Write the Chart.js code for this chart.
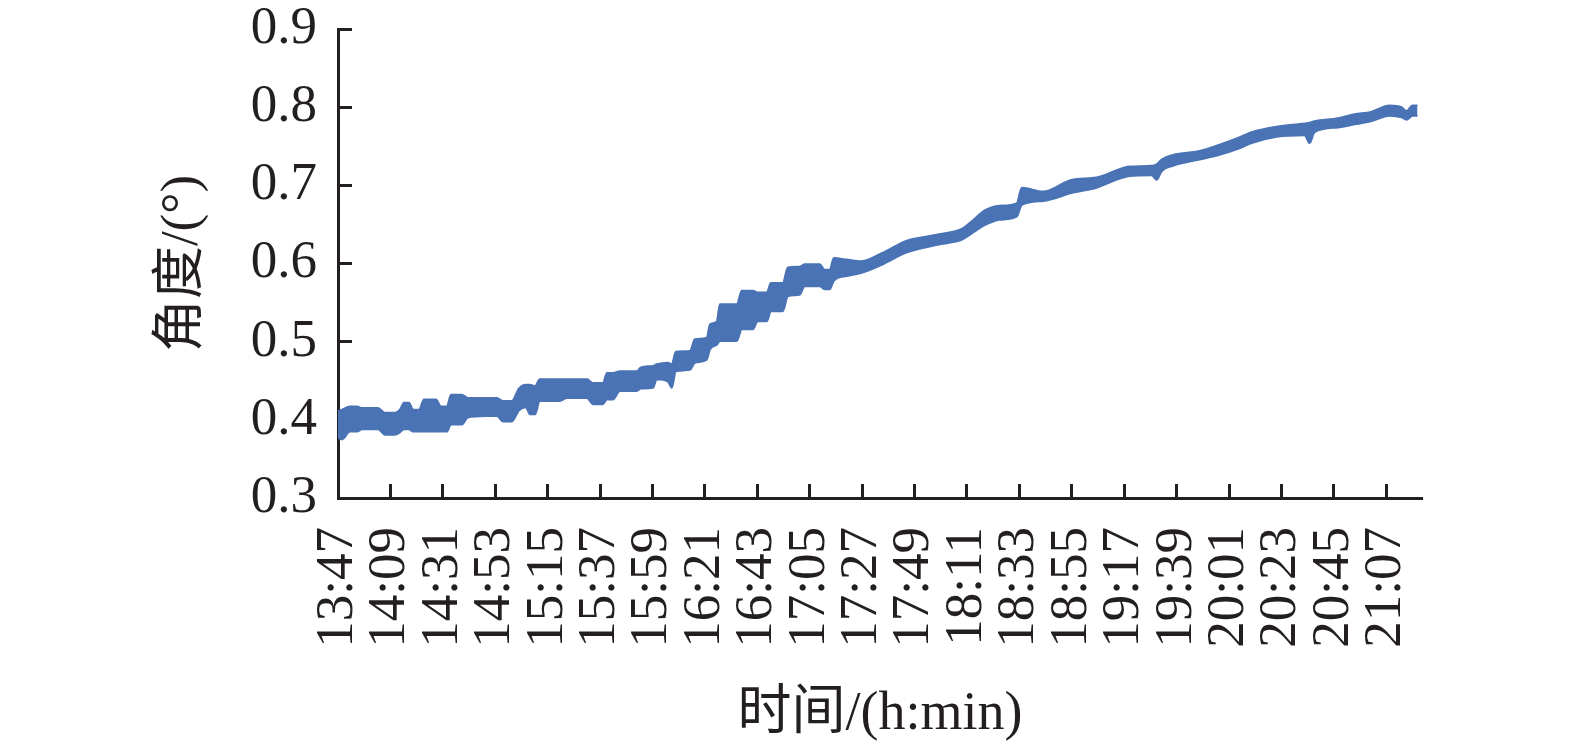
<!DOCTYPE html>
<html>
<head>
<meta charset="utf-8">
<script src="https://cdn.jsdelivr.net/npm/chart.js@4.4.1/dist/chart.umd.min.js"></script>
<style>
  body { margin: 0; background: #fff; }
</style>
</head>
<body>
<canvas id="angleChart" width="1575" height="751"></canvas>
<script>
// time axis labels (h:min), one every 22 minutes
const startTime = "13:47";
const tickLabels = ["13:47", "14:09", "14:31", "14:53", "15:15", "15:37", "15:59", "16:21", "16:43", "17:05",
  "17:27", "17:49", "18:11", "18:33", "18:55", "19:17", "19:39", "20:01", "20:23", "20:45", "21:07"];
const yTicks = [0.3, 0.4, 0.5, 0.6, 0.7, 0.8, 0.9];

// minutes after 13:47, with the highest and lowest angle of the noisy trace there
const sampleMinutes = [
  0, 1.7, 5.0, 8.0, 10.1, 16.8, 19.7, 23.9, 26.0, 27.7, 29.8, 31.5, 34.0, 36.1, 41.1, 43.2, 45.7, 47.4, 52.0, 54.5,
  61.7, 66.7, 69.2, 73.0, 75.9, 78.9, 80.6, 82.7, 84.7, 93.1, 96.1, 104.5, 107.0, 111.2, 112.9, 115.4, 118.3, 125.4, 127.1, 132.2,
  133.8, 138.5, 140.1, 141.8, 147.7, 149.8, 154.8, 156.1, 159.0, 160.3, 167.4, 169.5, 174.1, 176.2, 180.0, 181.7, 186.7, 188.8, 193.8, 195.9,
  202.2, 204.3, 206.4, 208.1, 213.6, 219.8, 228.7, 238.5, 251.7, 262.2, 266.8, 271.4, 277.7, 284.9, 287.0, 296.0, 307.8, 318.4, 332.3, 341.5,
  343.6, 345.7, 350.5, 361.6, 370.0, 377.2, 383.5, 394.0, 405.7, 407.8, 409.9, 419.7, 426.7, 433.6, 441.4, 446.4, 448.5, 451.0, 453.1
];
const angleMax = [
  0.411, 0.413, 0.417, 0.417, 0.415, 0.415, 0.409, 0.409, 0.413, 0.422, 0.422, 0.413, 0.413, 0.426, 0.426, 0.417, 0.417, 0.432, 0.432, 0.428,
  0.428, 0.428, 0.424, 0.424, 0.440, 0.445, 0.445, 0.443, 0.452, 0.452, 0.452, 0.452, 0.447, 0.447, 0.460, 0.460, 0.462, 0.462, 0.467, 0.469,
  0.471, 0.473, 0.471, 0.487, 0.488, 0.503, 0.505, 0.522, 0.526, 0.548, 0.548, 0.565, 0.565, 0.563, 0.563, 0.575, 0.575, 0.595, 0.596, 0.599,
  0.599, 0.592, 0.592, 0.607, 0.605, 0.603, 0.614, 0.629, 0.637, 0.645, 0.656, 0.668, 0.674, 0.677, 0.697, 0.692, 0.707, 0.710, 0.724, 0.725,
  0.727, 0.733, 0.739, 0.744, 0.752, 0.760, 0.768, 0.775, 0.779, 0.780, 0.782, 0.786, 0.791, 0.794, 0.802, 0.800, 0.795, 0.802, 0.802
];
const angleMin = [
  0.377, 0.375, 0.385, 0.385, 0.388, 0.388, 0.381, 0.381, 0.384, 0.388, 0.388, 0.385, 0.385, 0.385, 0.385, 0.385, 0.385, 0.394, 0.394, 0.403,
  0.405, 0.405, 0.398, 0.398, 0.412, 0.416, 0.407, 0.407, 0.424, 0.424, 0.428, 0.428, 0.420, 0.420, 0.426, 0.426, 0.437, 0.437, 0.440, 0.441,
  0.452, 0.449, 0.441, 0.462, 0.464, 0.473, 0.477, 0.490, 0.496, 0.501, 0.501, 0.516, 0.516, 0.526, 0.526, 0.539, 0.539, 0.558, 0.560, 0.571,
  0.571, 0.567, 0.567, 0.578, 0.584, 0.588, 0.599, 0.614, 0.624, 0.631, 0.640, 0.649, 0.656, 0.660, 0.675, 0.680, 0.690, 0.697, 0.712, 0.713,
  0.707, 0.718, 0.725, 0.733, 0.739, 0.746, 0.754, 0.762, 0.764, 0.754, 0.768, 0.774, 0.778, 0.782, 0.789, 0.787, 0.784, 0.789, 0.789
];

const ink = "#231f20";
const lineBlue = "#4a73b5";
const serif = "'Liberation Serif', 'Noto Sans CJK SC', serif";

function toMinutes(hm) {
  const [h, m] = hm.split(":").map(Number);
  return h * 60 + m;
}
const t0 = toMinutes(startTime);
const tickMinutes = tickLabels.map(l => toMinutes(l) - t0);

function minutesToLabel(v) {
  const total = t0 + Math.round(v);
  const h = Math.floor(total / 60);
  const m = total % 60;
  return h + ":" + String(m).padStart(2, "0");
}

const upper = sampleMinutes.map((m, i) => ({ x: m, y: angleMax[i] }));
const lower = sampleMinutes.map((m, i) => ({ x: m, y: angleMin[i] }));

const traceStyle = {
  borderColor: lineBlue,
  backgroundColor: lineBlue,
  borderWidth: 2,
  borderJoinStyle: "round",
  pointRadius: 0,
  cubicInterpolationMode: "monotone",
};

new Chart(document.getElementById("angleChart"), {
  type: "line",
  data: {
    datasets: [
      { ...traceStyle, data: upper, fill: false },
      { ...traceStyle, data: lower, fill: "-1" },
    ],
  },
  options: {
    responsive: false,
    animation: false,
    layout: { padding: { top: 29, right: 153, bottom: 0, left: 0 } },
    plugins: { legend: { display: false }, tooltip: { enabled: false } },
    scales: {
      x: {
        type: "linear",
        min: 0,
        max: 455,
        afterBuildTicks: s => { s.ticks = tickMinutes.map(v => ({ value: v })); },
        afterFit: s => { s.height = 253; },
        ticks: {
          autoSkip: false,
          minRotation: 90,
          maxRotation: 90,
          padding: 43,
          color: ink,
          font: { family: serif, size: 53, lineHeight: 1 },
          callback: v => minutesToLabel(v),
        },
        grid: { drawOnChartArea: false, tickLength: -14, tickWidth: 3, tickColor: ink },
        border: { color: ink, width: 3 },
        title: {
          display: true,
          text: "时间/(h:min)",
          color: ink,
          font: { family: serif, size: 54, lineHeight: 1.2 },
          padding: { top: 0, bottom: 4 },
        },
      },
      y: {
        min: 0.3,
        max: 0.9,
        afterBuildTicks: s => { s.ticks = yTicks.map(v => ({ value: v })); },
        afterFit: s => {
          s.width = 338;
          s.paddingTop = 0;
          s.paddingBottom = 0;
        },
        ticks: {
          padding: 35,
          color: ink,
          font: { family: serif, size: 53, lineHeight: 1 },
          callback: v => v.toFixed(1),
        },
        grid: { drawOnChartArea: false, tickLength: -14, tickWidth: 3, tickColor: ink },
        border: { color: ink, width: 3 },
        title: {
          display: true,
          text: "角度/(°)",
          color: ink,
          font: { family: serif, size: 53, lineHeight: 1.2 },
          padding: { top: 151, bottom: 0 },
        },
      },
    },
  },
});
</script>
</body>
</html>
